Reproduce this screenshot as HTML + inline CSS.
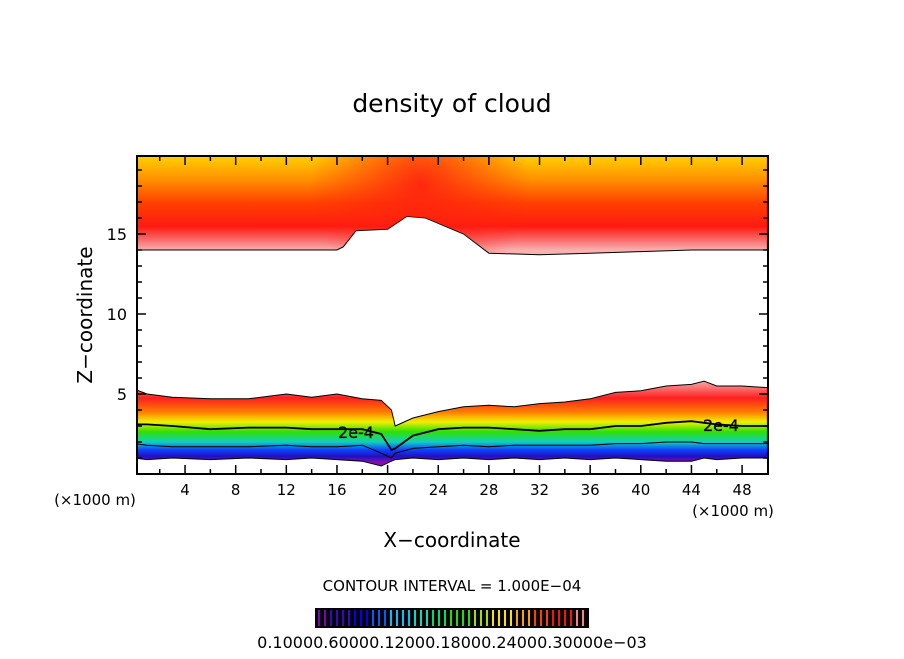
<!DOCTYPE html>
<html><head><meta charset="utf-8"><style>
body{margin:0;background:#fff;width:904px;height:654px;overflow:hidden}
svg text{font-family:"DejaVu Sans","Liberation Sans",sans-serif;fill:#000}
</style></head><body>
<svg id="c" width="904" height="654" viewBox="0 0 904 654">
<defs>
<linearGradient id="gTop" gradientUnits="userSpaceOnUse" x1="0" y1="250" x2="0" y2="156">
<stop offset="0" stop-color="#f8b0b0"/><stop offset="0.1" stop-color="#f87070"/><stop offset="0.25" stop-color="#ff1a10"/>
<stop offset="0.5" stop-color="#ff4000"/><stop offset="0.75" stop-color="#ff9000"/><stop offset="1" stop-color="#ffd000"/></linearGradient>
<radialGradient id="gBlob" gradientUnits="userSpaceOnUse" cx="420" cy="185" r="110"><stop offset="0" stop-color="#ff2010" stop-opacity="0.9"/><stop offset="1" stop-color="#ff2010" stop-opacity="0"/></radialGradient>
<linearGradient id="gBot" gradientUnits="userSpaceOnUse" x1="0" y1="382" x2="0" y2="462">
<stop offset="0" stop-color="#f8a0a0"/><stop offset="0.2" stop-color="#ff2020"/><stop offset="0.38" stop-color="#ff8000"/>
<stop offset="0.5" stop-color="#f0f000"/><stop offset="0.62" stop-color="#30e000"/><stop offset="0.75" stop-color="#10d0c0"/>
<stop offset="0.85" stop-color="#1040ff"/><stop offset="0.93" stop-color="#2010c0"/><stop offset="1" stop-color="#8010b0"/></linearGradient>
<clipPath id="pc"><rect x="137" y="156" width="631" height="318"/></clipPath>
</defs>
<text x="452" y="112" font-size="25" text-anchor="middle">density of cloud</text>
<g id="plot" clip-path="url(#pc)"></g>
<g id="axes"></g>
<text transform="translate(92,315) rotate(-90)" font-size="20" text-anchor="middle">Z−coordinate</text>
<text x="452" y="547" font-size="20" text-anchor="middle">X−coordinate</text>
<text x="95" y="505" font-size="15" text-anchor="middle">(×1000 m)</text>
<text x="733" y="516" font-size="15" text-anchor="middle">(×1000 m)</text>
<text x="452" y="591" font-size="15" text-anchor="middle">CONTOUR INTERVAL = 1.000E−04</text>
<rect x="315" y="608" width="274" height="20" fill="#000"/>
<g id="bar"></g>
<text x="452" y="648" font-size="16" text-anchor="middle">0.10000.60000.12000.18000.24000.30000e−03</text>
</svg>
<script>
const xTicks=[4,8,12,16,20,24,28,32,36,40,44,48];
const yTicks=[5,10,15];
const topX=[0,8,16,16.5,17.5,20,21.5,23,26,28,32,36,40,44,50];
const topZ=[14,14,14,14.2,15.2,15.3,16.1,16.0,15,13.8,13.7,13.8,13.9,14,14];
const botX=[0,1,3,6,9,12,14,16,18,19.5,20.3,20.6,22,24,26,28,30,32,34,36,38,40,42,44,45,46,48,50];
const botZ=[5.3,5.0,4.8,4.7,4.7,5.0,4.8,5.0,4.7,4.6,4.0,3.0,3.5,3.9,4.2,4.3,4.2,4.4,4.5,4.7,5.1,5.2,5.5,5.6,5.8,5.5,5.5,5.4];
const lowZ=[1.0,0.9,1.0,0.9,1.0,0.9,1.0,0.9,0.8,0.5,0.8,0.9,1.0,0.9,1.0,0.9,1.0,0.9,1.0,0.9,1.0,0.9,0.8,0.8,1.0,0.9,1.0,1.0];
const c2e4=[3.1,3.1,3.0,2.8,2.9,2.9,2.8,2.8,2.8,2.5,1.5,1.6,2.4,2.8,2.9,2.9,2.8,2.7,2.8,2.8,3.0,3.0,3.2,3.3,3.2,3.1,3.0,3.0];
const c1e4=[1.9,1.8,1.7,1.7,1.7,1.8,1.7,1.7,1.8,1.3,1.0,1.3,1.6,1.7,1.8,1.7,1.8,1.8,1.8,1.8,1.9,1.9,2.0,2.0,1.9,1.9,1.9,1.9];
const X=v=>134.4+12.66*v, Y=v=>474-16*v;
const NS='http://www.w3.org/2000/svg';
function mk(t,a,p){const e=document.createElementNS(NS,t);for(const k in a)e.setAttribute(k,a[k]);p.appendChild(e);return e;}
const plot=document.getElementById('plot');
let d='M'+X(0)+','+Y(20);topX.forEach((x,i)=>d+=' L'+X(x)+','+Y(topZ[i]));d+=' L'+X(50)+','+Y(20)+'Z';
let e=mk('path',{d:d,fill:'url(#gTop)',stroke:'#000','stroke-width':1},plot);


e=mk('path',{d:d,fill:'url(#gBlob)'},plot);


d='';botX.forEach((x,i)=>d+=(i?' L':'M')+X(x)+','+Y(botZ[i]));
for(let i=botX.length-1;i>=0;i--)d+=' L'+X(botX[i])+','+Y(lowZ[i]);d+='Z';
e=mk('path',{d:d,fill:'url(#gBot)',stroke:'#000','stroke-width':1},plot);


[[c2e4,1.8,'contour-2e-4'],[c1e4,1,'contour-1e-4']].forEach(([arr,w,n])=>{
 let p='';botX.forEach((x,i)=>p+=(i?' L':'M')+X(x)+','+Y(arr[i]));
 const l=mk('path',{d:p,fill:'none',stroke:'#000','stroke-width':w},plot);
 
 
});
[[356,438,'2e-4'],[721,431,'2e-4']].forEach(([x,y,t])=>{
 const tx=mk('text',{x:x,y:y,'font-size':16,'text-anchor':'middle',stroke:'#000','stroke-width':0.3},plot);tx.textContent=t;
 
 
});
const ax=document.getElementById('axes');
e=mk('rect',{x:137,y:156,width:631,height:318,fill:'none',stroke:'#000','stroke-width':2},ax);


for(let v=2;v<50;v+=2){const L=v%4?5:9;mk('line',{x1:X(v),x2:X(v),y1:474,y2:474-L,stroke:'#000','stroke-width':1.5},ax);mk('line',{x1:X(v),x2:X(v),y1:156,y2:156+L,stroke:'#000','stroke-width':1.5},ax);}
for(let v=1;v<20;v++){const L=v%5?5:9;mk('line',{x1:137,x2:137+L,y1:Y(v),y2:Y(v),stroke:'#000','stroke-width':1.5},ax);mk('line',{x1:768,x2:768-L,y1:Y(v),y2:Y(v),stroke:'#000','stroke-width':1.5},ax);}
xTicks.forEach(v=>{const t=mk('text',{x:X(v),y:495,'font-size':15,'text-anchor':'middle'},ax);t.textContent=v;
 
 });
yTicks.forEach(v=>{const t=mk('text',{x:127,y:Y(v)+6,'font-size':16,'text-anchor':'end'},ax);t.textContent=v;
 
 });
const bar=document.getElementById('bar');
const cols=['#8000c0','#4000d0','#0000ff','#0060ff','#00c0ff','#00e0c0','#00e060','#20e000','#a0e000','#ffe000','#ffa000','#ff4000','#ff1010','#ff8080'];
for(let i=0;i<45;i++){const f=i/44;const c=cols[Math.round(f*(cols.length-1))];
 const s=mk('rect',{x:318+i*6,y:610,width:2,height:16,fill:c},bar);
 
 }
</script>
</body></html>
